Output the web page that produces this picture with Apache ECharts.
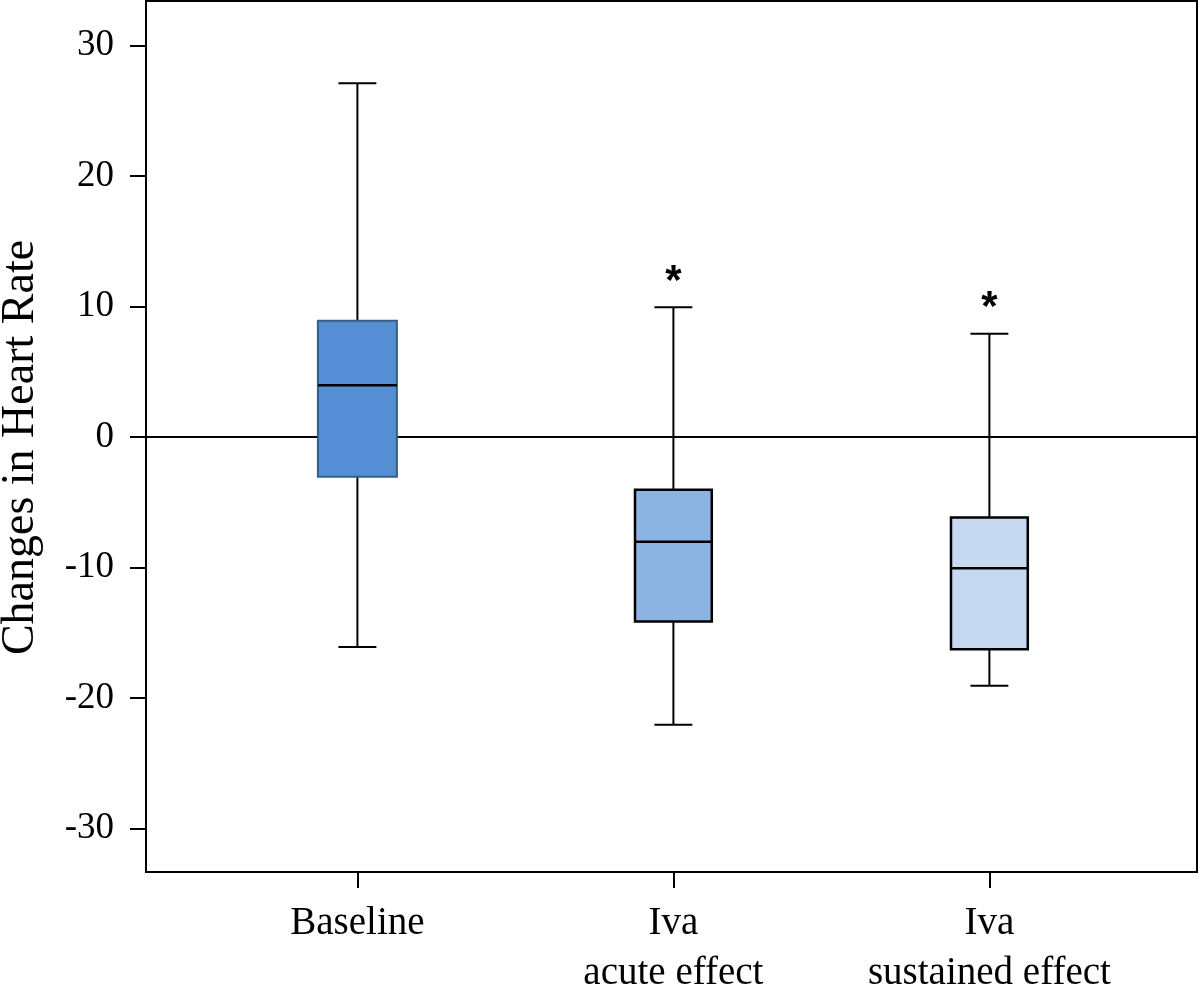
<!DOCTYPE html>
<html>
<head>
<meta charset="utf-8">
<script src="https://cdn.jsdelivr.net/npm/echarts@6/dist/echarts.min.js"></script>
<style>html,body{margin:0;padding:0;background:#fff}#c{width:1200px;height:994px}</style>
</head>
<body>
<div id="c"></div>
<script>
const categories = ['Baseline', 'Iva\nacute effect', 'Iva\nsustained effect'];
const positions = [1, 2, 3];
const whiskerMin = [-16.1, -22.07, -19.08];
const q1 = [-3.05, -14.15, -16.27];
const median = [3.95, -8.03, -10.06];
const q3 = [8.9, -4.06, -6.17];
const whiskerMax = [27.1, 9.94, 7.9];
const sigMarks = ['', '*', '*'];
const fillColors = ['#558ED5', '#8DB3E2', '#C6D9F1'];
const borderColors = ['#385D8A', '#000000', '#000000'];
const yTicks = [-30, -20, -10, 0, 10, 20, 30];

const FONT = "'Liberation Serif', 'Times New Roman', serif";
const xMin = 0.331, xMax = 3.657;

const boxData = positions.map((p, i) => [p, whiskerMin[i], q1[i], median[i], q3[i], whiskerMax[i], i]);

const chart = echarts.init(document.getElementById('c'));
chart.setOption({
  animation: false,
  backgroundColor: '#fff',
  grid: { left: 146, right: 3, top: 1, bottom: 122, show: true, borderColor: '#000', borderWidth: 2,
          backgroundColor: 'transparent', containLabel: false, outerBoundsMode: 'none' },
  xAxis: {
    type: 'value', min: xMin, max: xMax,
    splitLine: { show: false },
    axisLine: { show: true, onZero: false, lineStyle: { color: '#000', width: 2 } },
    axisTick: { show: true, inside: false, length: 16, customValues: positions, lineStyle: { color: '#000', width: 2 } },
    axisLabel: {
      customValues: positions,
      formatter: v => categories[positions.indexOf(Math.round(v))] || '',
      fontFamily: FONT, fontSize: 39, color: '#000', lineHeight: 50, margin: 27
    }
  },
  yAxis: {
    type: 'value', min: -33.35, max: 33.41,
    name: 'Changes in Heart Rate', nameLocation: 'middle', nameRotate: 90, nameGap: 102,
    nameTextStyle: { fontFamily: FONT, fontSize: 46, color: '#000', padding: [0, 22, 0, 0] },
    splitLine: { show: false },
    axisLine: { show: true, onZero: false, lineStyle: { color: '#000', width: 2 } },
    axisTick: { show: true, inside: false, length: 16, customValues: yTicks, lineStyle: { color: '#000', width: 2 } },
    axisLabel: { customValues: yTicks, fontFamily: FONT, fontSize: 37, color: '#000', margin: 32 }
  },
  series: [
    {
      type: 'line', data: [[xMin, 0], [xMax, 0]], symbol: 'none', silent: true,
      lineStyle: { color: '#000', width: 2 }, z: 1
    },
    {
      type: 'custom', z: 3,
      data: boxData,
      renderItem: function (params, api) {
        const x = api.value(0);
        const i = api.value(6);
        const pMin = api.coord([x, api.value(1)]);
        const pQ1 = api.coord([x, api.value(2)]);
        const pMed = api.coord([x, api.value(3)]);
        const pQ3 = api.coord([x, api.value(4)]);
        const pMax = api.coord([x, api.value(5)]);
        const boxW = api.size([i === 0 ? 0.25 : 0.243, 0])[0];
        const capW = api.size([0.12, 0])[0];
        const cx = pMed[0];
        const lw = 2;
        const children = [
          { type: 'line', shape: { x1: cx, y1: pQ3[1], x2: cx, y2: pMax[1] }, style: { stroke: '#000', lineWidth: lw } },
          { type: 'line', shape: { x1: cx - capW / 2, y1: pMax[1], x2: cx + capW / 2, y2: pMax[1] }, style: { stroke: '#000', lineWidth: lw } },
          { type: 'line', shape: { x1: cx, y1: pQ1[1], x2: cx, y2: pMin[1] }, style: { stroke: '#000', lineWidth: lw } },
          { type: 'line', shape: { x1: cx - capW / 2, y1: pMin[1], x2: cx + capW / 2, y2: pMin[1] }, style: { stroke: '#000', lineWidth: lw } },
          { type: 'rect', shape: { x: cx - boxW / 2, y: pQ3[1], width: boxW, height: pQ1[1] - pQ3[1] },
            style: { fill: fillColors[i], stroke: borderColors[i], lineWidth: i === 0 ? 2 : 2.5 } },
          { type: 'line', shape: { x1: cx - boxW / 2, y1: pMed[1], x2: cx + boxW / 2, y2: pMed[1] }, style: { stroke: '#000', lineWidth: 2.5 } }
        ];
        if (sigMarks[i]) {
          children.push({ type: 'text', x: cx, y: pMax[1] - 25,
            style: { text: sigMarks[i], fontFamily: "'Liberation Sans', Arial, sans-serif", fontWeight: 'bold', fontSize: 42, fill: '#000', align: 'center', verticalAlign: 'middle' } });
        }
        return { type: 'group', children: children };
      }
    }
  ]
});
</script>
</body>
</html>
